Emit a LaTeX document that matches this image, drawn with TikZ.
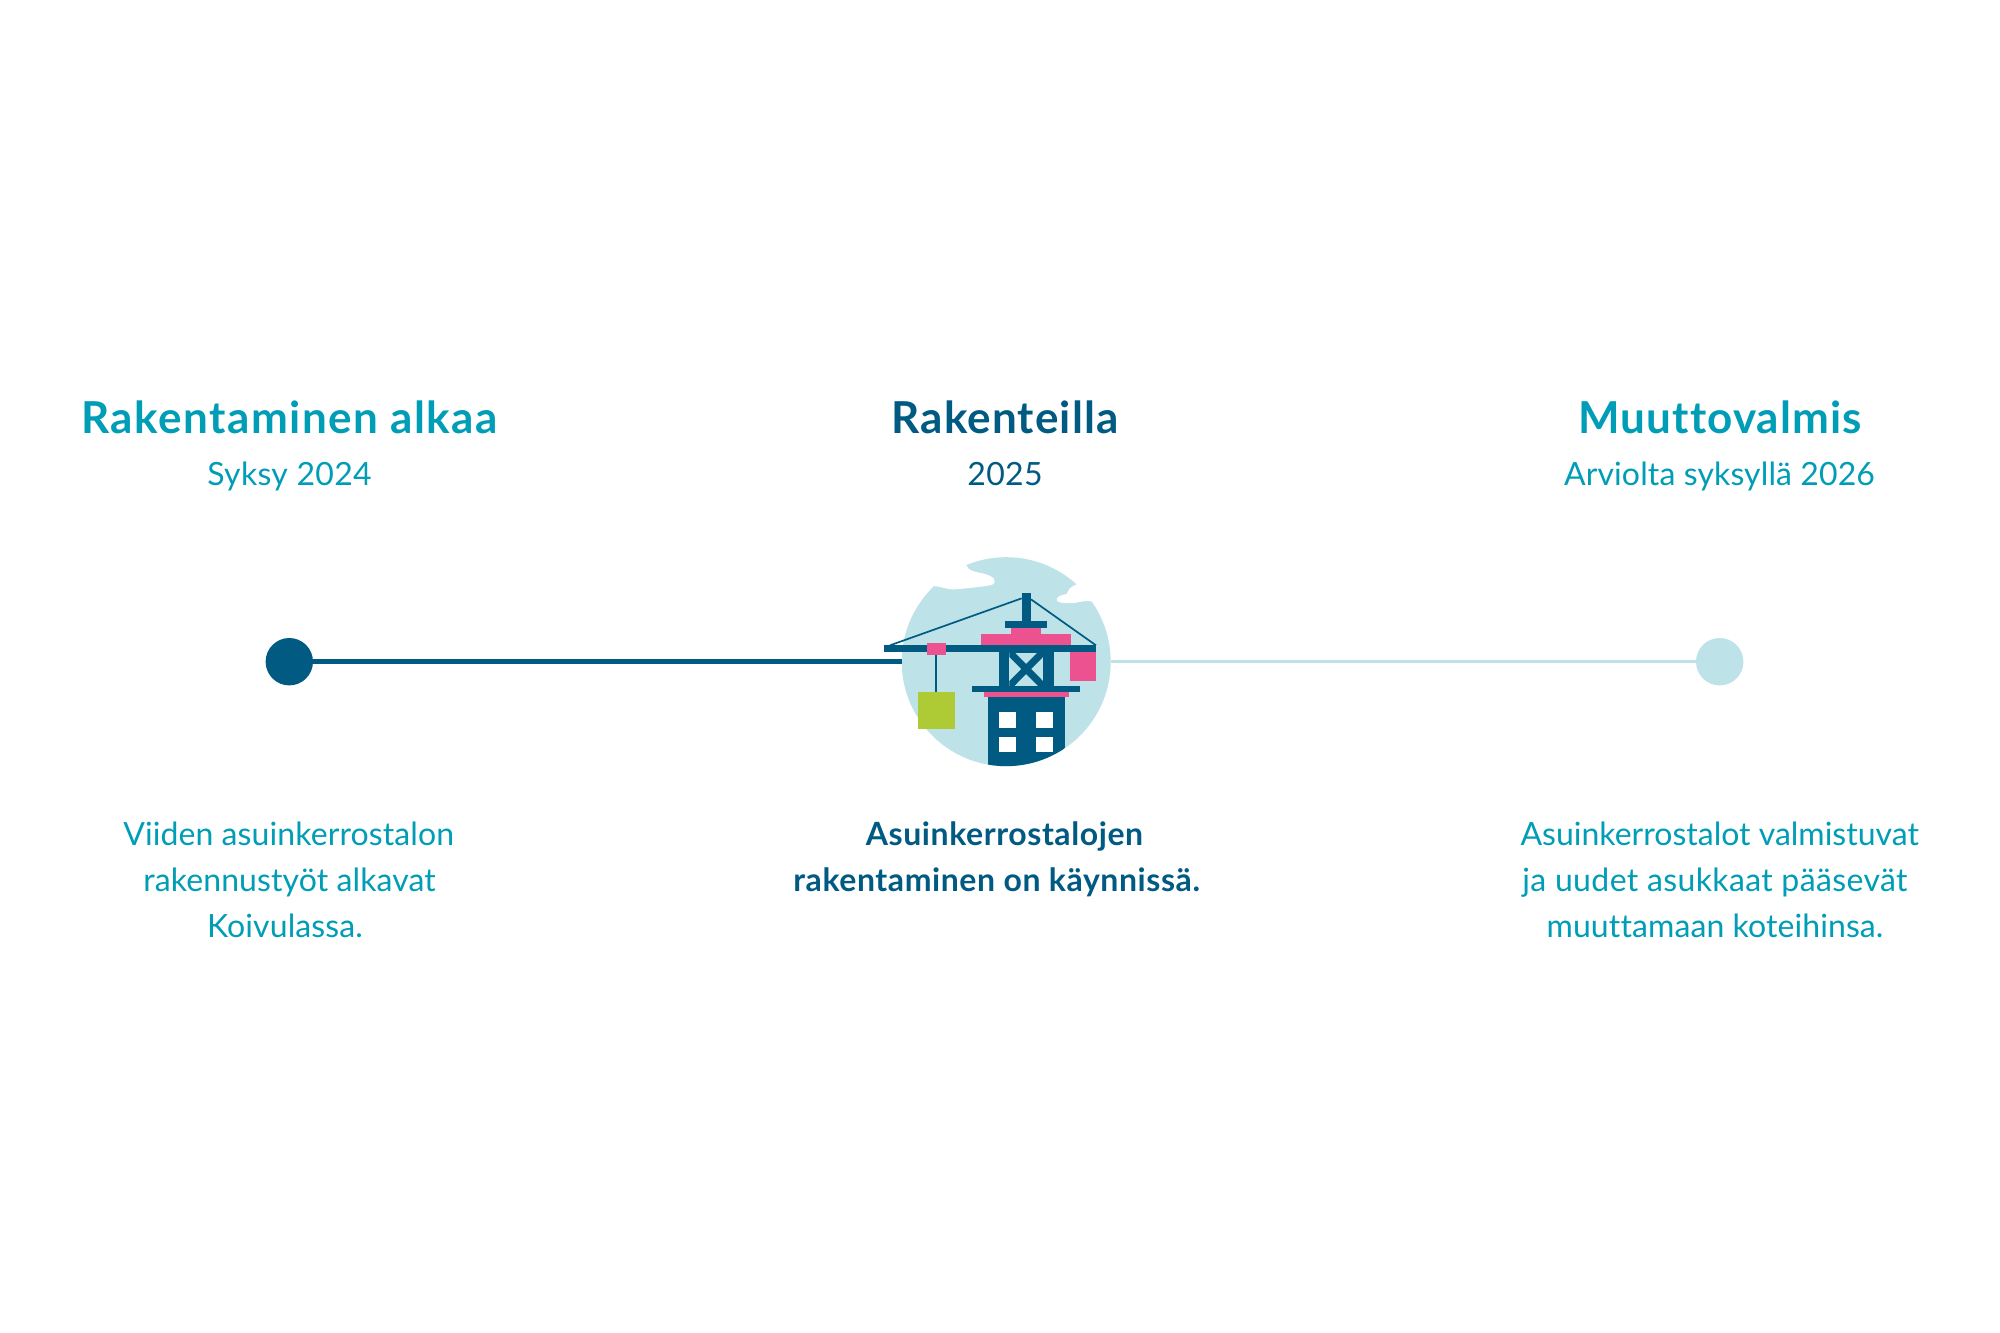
\documentclass[tikz,border=0pt]{standalone}
\usepackage{fontspec}
\setmainfont[Ligatures=NoCommon]{Lato}
\definecolor{teal}{HTML}{009DB6}
\definecolor{navy}{HTML}{005A82}
\definecolor{pale}{HTML}{BDE2E8}
\definecolor{rose}{HTML}{EC5190}
\definecolor{lime}{HTML}{AECB36}
\tikzset{
  txt/.style={anchor=base,inner sep=0pt},
  tl/.style={txt,font=\fontsize{44}{44}\selectfont\bfseries\addfontfeatures{LetterSpace=2.5}},
  tlwide/.style={txt,font=\fontsize{44}{44}\selectfont\bfseries\addfontfeatures{LetterSpace=3.4}},
  sb/.style={txt,font=\fontsize{32}{32}\selectfont\addfontfeatures{LetterSpace=1}},
  sbtight/.style={txt,font=\fontsize{32}{32}\selectfont\addfontfeatures{LetterSpace=0.4}},
  bd/.style={txt,font=\fontsize{32}{32}\selectfont\addfontfeatures{LetterSpace=0.3}},
  bdtight/.style={txt,font=\fontsize{32}{32}\selectfont},
  bdwide/.style={txt,font=\fontsize{32}{32}\selectfont\addfontfeatures{LetterSpace=1.2}},
  bdb/.style={txt,font=\fontsize{32}{32}\selectfont\bfseries\addfontfeatures{LetterSpace=1.8}},
  dot/.style={circle,inner sep=0pt,minimum size=47.4pt},
  zoomed/.style={shift={(860,540)},x=0.33333pt,y=-0.33333pt},
}
\begin{document}
\begin{tikzpicture}[x=1pt,y=-1pt]
\useasboundingbox (0,0) rectangle (2000,1333);
\fill[white] (0,0) rectangle (2000,1333);
\node[dot,fill=navy] (start) at (289.3,661.7) {};
\node[dot,fill=pale] (finish) at (1719.7,661.7) {};
\node[circle,inner sep=0pt,minimum size=209pt,fill=pale] (hub) at (1006.2,661.7) {};
\draw[navy,line width=4.6pt] (start) -- (hub);
\draw[pale,line width=3pt] (hub) -- (finish);
\begin{scope}[zoomed]
  \fill[white] (300,40) -- (318,75) .. controls (325,95) and (350,95) .. (375,102)
    .. controls (400,108) and (415,125) .. (395,135)
    .. controls (370,140) and (320,145) .. (285,148)
    .. controls (265,150) and (245,140) .. (222,138) -- (150,100) -- (200,30) -- cycle;
  \fill[white] (650,133) .. controls (630,140) and (625,150) .. (620,162)
    .. controls (600,165) and (590,172) .. (590,180)
    .. controls (595,192) and (630,190) .. (650,188)
    .. controls (665,184) and (685,180) .. (697,185)
    -- (770,170) -- (700,90) -- cycle;
  % building
  \begin{scope}
    \clip (438.5,365) circle [radius=313.5];
    \fill[navy] (383,471) rectangle (615,700);
  \end{scope}
  \fill[white] (418,517) rectangle (469,564);
  \fill[white] (528,517) rectangle (579,564);
  \fill[white] (418,590) rectangle (469,637);
  \fill[white] (528,590) rectangle (579,637);
  \fill[rose] (372,456) rectangle (627,471);
  \fill[navy] (337,438) rectangle (660,456);
  % tower
  \fill[navy] (417,336) rectangle (448,438);
  \fill[navy] (549,336) rectangle (581,438);
  \fill[navy] (417,336) rectangle (581,340);
  \begin{scope}
    \clip (448,336) rectangle (549,438);
    \draw[navy,line width=7pt] (448,336) -- (549,438);
    \draw[navy,line width=7pt] (549,336) -- (448,438);
  \end{scope}
  % counterweight and top
  \fill[rose] (631,336) rectangle (708,422);
  \fill[rose] (364,283) rectangle (633,316);
  \fill[rose] (454,265) rectangle (543,283);
  \fill[navy] (436,244) rectangle (561,265);
  \fill[navy] (485,160) rectangle (513,245);
  \draw[navy,line width=1.7pt] (90,316) -- (485,175);
  \draw[navy,line width=1.7pt] (513,178) -- (708,316);
  \fill[navy] (72,316) rectangle (708,336);
  \draw[navy,line width=2pt] (229,346) -- (229,455);
  \fill[rose] (201,308) rectangle (258,346);
  \fill[lime] (173,455) rectangle (285,566);
\end{scope}
\node[tlwide,text=teal] (t1) at (289.5,433) {Rakentaminen alkaa};
\node[sb,text=teal] (s1) at (289.5,485) {Syksy 2024};
\node[tl,text=navy] (t2) at (1005,433) {Rakenteilla};
\node[sb,text=navy] (s2) at (1005,485) {2025};
\node[tl,text=teal] (t3) at (1720.3,433) {Muuttovalmis};
\node[sbtight,text=teal] (s3) at (1719.5,485) {Arviolta syksyllä 2026};
\node[bd,text=teal] (a1) at (288.7,845) {Viiden asuinkerrostalon};
\node[bd,text=teal] (a2) at (289.6,891) {rakennustyöt alkavat};
\node[bd,text=teal] (a3) at (285,937.3) {Koivulassa.};
\node[bdb,text=navy] (b1) at (1004.5,845) {Asuinkerrostalojen};
\node[bdb,text=navy] (b2) at (996.7,891) {rakentaminen on käynnissä.};
\node[bdtight,text=teal] (c1) at (1719.7,845) {Asuinkerrostalot valmistuvat};
\node[bdwide,text=teal] (c2) at (1715,891) {ja uudet asukkaat pääsevät};
\node[bd,text=teal] (c3) at (1715,937.3) {muuttamaan koteihinsa.};
\end{tikzpicture}
\end{document}
